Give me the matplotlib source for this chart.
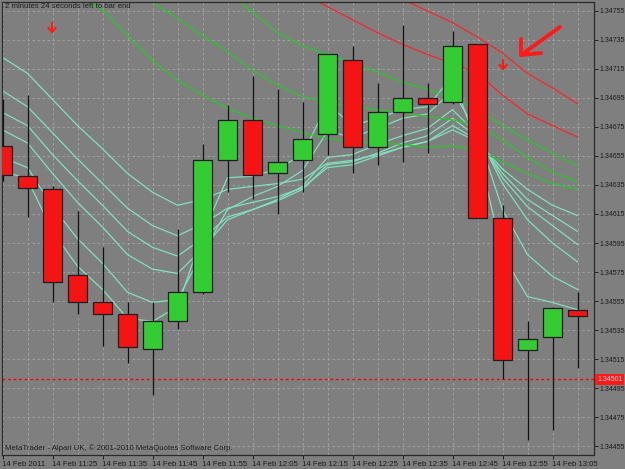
import matplotlib.pyplot as plt
from matplotlib.patches import Rectangle
import numpy as np

plt.rcParams['font.family'] = ['Liberation Sans', 'DejaVu Sans']

# 5 minute bars, 14 Feb 2011
times = ['11:15', '11:20', '11:25', '11:30', '11:35', '11:40', '11:45', '11:50',
         '11:55', '12:00', '12:05', '12:10', '12:15', '12:20', '12:25', '12:30',
         '12:35', '12:40', '12:45', '12:50', '12:55', '13:00', '13:05', '13:10']
opens = [1.34662, 1.34641, 1.34632, 1.34573, 1.34554, 1.34546, 1.34522, 1.34541,
         1.34561, 1.34652, 1.34680, 1.34643, 1.34652, 1.34670, 1.34721, 1.34661,
         1.34685, 1.34695, 1.34692, 1.34732, 1.34612, 1.34521, 1.34530, 1.34549]
highs = [1.34694, 1.34697, 1.34634, 1.34617, 1.34592, 1.34554, 1.34554, 1.34605,
         1.34663, 1.34690, 1.34710, 1.34701, 1.34692, 1.34725, 1.34731, 1.34705,
         1.34745, 1.34705, 1.34741, 1.34732, 1.34621, 1.34541, 1.34551, 1.34561]
lows = [1.34638, 1.34613, 1.34554, 1.34546, 1.34524, 1.34512, 1.34490, 1.34536,
        1.34560, 1.34630, 1.34625, 1.34615, 1.34630, 1.34656, 1.34643, 1.34649,
        1.34651, 1.34657, 1.34691, 1.34612, 1.34501, 1.34459, 1.34466, 1.34509]
closes = [1.34642, 1.34633, 1.34568, 1.34554, 1.34546, 1.34523, 1.34541, 1.34561,
          1.34652, 1.34680, 1.34642, 1.34651, 1.34667, 1.34725, 1.34661, 1.34685,
          1.34695, 1.34691, 1.34731, 1.34612, 1.34514, 1.34529, 1.34550, 1.34545]

# short moving averages (aquamarine)
aqua1 = [1.34723, 1.34712, 1.34694, 1.34676, 1.34660, 1.34643, 1.34630, 1.34621,
         1.34625, 1.34632, 1.34634, 1.34636, 1.34639, 1.34650, 1.34652, 1.34656,
         1.34661, 1.34665, 1.34673, 1.34665, 1.34646, 1.34632, 1.34621, 1.34614]
aqua2 = [1.34700, 1.34689, 1.34671, 1.34653, 1.34636, 1.34619, 1.34607, 1.34600,
         1.34608, 1.34619, 1.34623, 1.34627, 1.34633, 1.34647, 1.34649, 1.34655,
         1.34661, 1.34665, 1.34676, 1.34666, 1.34643, 1.34625, 1.34614, 1.34603]
aqua3 = [1.34685, 1.34676, 1.34656, 1.34638, 1.34621, 1.34603, 1.34592, 1.34586,
         1.34598, 1.34613, 1.34618, 1.34624, 1.34632, 1.34649, 1.34651, 1.34657,
         1.34664, 1.34669, 1.34681, 1.34668, 1.34640, 1.34620, 1.34607, 1.34594]
aqua4 = [1.34673, 1.34664, 1.34643, 1.34623, 1.34606, 1.34587, 1.34577, 1.34574,
         1.34591, 1.34611, 1.34618, 1.34625, 1.34634, 1.34654, 1.34656, 1.34663,
         1.34669, 1.34674, 1.34687, 1.34670, 1.34636, 1.34611, 1.34595, 1.34582]
aqua5 = [1.34654, 1.34647, 1.34620, 1.34598, 1.34581, 1.34561, 1.34554, 1.34556,
         1.34588, 1.34618, 1.34627, 1.34634, 1.34645, 1.34672, 1.34668, 1.34674,
         1.34681, 1.34684, 1.34700, 1.34671, 1.34618, 1.34587, 1.34572, 1.34563]
aqua6 = [1.34645, 1.34639, 1.34603, 1.34579, 1.34563, 1.34543, 1.34541, 1.34551,
         1.34601, 1.34640, 1.34641, 1.34646, 1.34656, 1.34691, 1.34676, 1.34681,
         1.34687, 1.34689, 1.34710, 1.34661, 1.34587, 1.34558, 1.34554, 1.34549]

# longer moving averages (green, red)
green1 = [1.34804, 1.34790, 1.34776, 1.34766, 1.34756, 1.34738, 1.34721, 1.34707,
          1.34697, 1.34688, 1.34681, 1.34676, 1.34671, 1.34667, 1.34665, 1.34664,
          1.34663, 1.34661, 1.34662, 1.34659, 1.34651, 1.34643, 1.34636, 1.34632]
green2 = [None, None, None, None, None, 1.34775, 1.34761, 1.34750,
          1.34738, 1.34727, 1.34714, 1.34704, 1.34696, 1.34692, 1.34689, 1.34687,
          1.34685, 1.34682, 1.34680, 1.34676, 1.34666, 1.34654, 1.34644, 1.34637]
green3 = [None, None, None, None, None, None, None, None,
          1.34783, 1.34768, 1.34754, 1.34740, 1.34731, 1.34725, 1.34719, 1.34713,
          1.34706, 1.34701, 1.34695, 1.34687, 1.34676, 1.34666, 1.34657, 1.34648]
red1 = [None, None, None, None, None, None, None, None,
        None, None, None, None, None, None, None, 1.34771,
        1.34763, 1.34755, 1.34747, 1.34737, 1.34726, 1.34712, 1.34702, 1.34691]
red2 = [None, None, None, None, None, None, None, None,
        None, None, None, None, 1.34767, 1.34758, 1.34749, 1.34740,
        1.34732, 1.34725, 1.34719, 1.34712, 1.34697, 1.34684, 1.34676, 1.34668]

bid = 1.34501
yticks = [1.34455, 1.34475, 1.34495, 1.34515, 1.34535, 1.34555, 1.34575, 1.34595,
          1.34615, 1.34635, 1.34655, 1.34675, 1.34695, 1.34715, 1.34735, 1.34755]
xtick_labels = ['14 Feb 2011', '14 Feb 11:25', '14 Feb 11:35', '14 Feb 11:45',
                '14 Feb 11:55', '14 Feb 12:05', '14 Feb 12:15', '14 Feb 12:25',
                '14 Feb 12:35', '14 Feb 12:45', '14 Feb 12:55', '14 Feb 13:05']

bg = '#7f7f7f'
txt = '#1c1c1c'
W, H = 625, 469

fig = plt.figure(figsize=(6.25, 4.69), dpi=100, facecolor=bg)
ax = fig.add_axes([2 / W, 1 - 455 / H, 592 / W, 453 / H], facecolor=bg)

x = np.arange(len(times))

for s in [aqua1, aqua2, aqua3, aqua4, aqua5, aqua6]:
    ax.plot(x, np.array(s, dtype=float), color='#7fe6c0', lw=0.85, zorder=2)
for s in [green1, green2, green3]:
    ax.plot(x, np.array(s, dtype=float), color='#22cc22', lw=0.85, zorder=2)
for s in [red1, red2]:
    ax.plot(x, np.array(s, dtype=float), color='#ff2222', lw=0.85, zorder=2)

ax.axhline(bid, color='#ff0000', ls=(0, (2, 2)), lw=1.0, zorder=2.5)

for i in x:
    o, h, l, c = opens[i], highs[i], lows[i], closes[i]
    ax.vlines(i, l, h, color='#111111', lw=0.9, zorder=3)
    col = '#33cc33' if c >= o else '#f51414'
    ax.add_patch(Rectangle((i - 0.38, min(o, c)), 0.76, abs(c - o),
                           facecolor=col, edgecolor='#1e1e1e', lw=0.9, zorder=4))

ax.set_xlim(-0.02, 23.66)
ax.set_ylim(1.344488, 1.347612)

ax.set_xticks(x[::2])
ax.set_xticklabels(xtick_labels, ha='left')
ax.set_xticks(x, minor=True)
ax.set_yticks(yticks)
ax.set_yticklabels(['%.5f' % v for v in yticks])
ax.yaxis.tick_right()
ax.tick_params(axis='both', which='major', length=3, width=0.7, color='#1e1e1e',
               labelcolor=txt, pad=1)
ax.tick_params(axis='x', which='major', labelsize=5.6)
ax.tick_params(axis='y', which='major', labelsize=5.0)
ax.tick_params(axis='x', which='minor', length=0)
ax.grid(True, which='both', color='#a6a6a6', ls=(0, (3, 3)), lw=0.6, zorder=1)
ax.grid(False, axis='y', which='minor')

for sp in ax.spines.values():
    sp.set_color('#2a2a2a')
    sp.set_linewidth(0.9)

# bid price label on the price scale
ax.text(1.0 + 3 / 592, bid, '1.34501', transform=ax.get_yaxis_transform(),
        ha='left', va='center', fontsize=5.0, color='#ffd8d8', zorder=6,
        bbox=dict(boxstyle='square,pad=0.25', fc='#ff1a1a', ec='none'))

fig.text(5 / W, 1 - 6 / H, '2 minutes 24 seconds left to bar end',
         fontsize=5.6, color=txt, va='center', ha='left')
fig.text(5 / W, 1 - 448 / H,
         'MetaTrader - Alpari UK, \u00a9 2001-2010 MetaQuotes Software Corp.',
         fontsize=5.6, color=txt, va='center', ha='left')


def px(a, b):
    return a / W, 1 - b / H


# small down arrows
for ax_, ay in [(52, 23), (503, 60)]:
    fig.add_artist(plt.Line2D([px(ax_, ay)[0]] * 2, [px(ax_, ay)[1], px(ax_, ay + 9)[1]],
                              color='#ff1a1a', lw=1.5))
    fig.add_artist(plt.Line2D([px(ax_ - 3.5, ay + 5)[0], px(ax_, ay + 9)[0], px(ax_ + 3.5, ay + 5)[0]],
                              [px(ax_ - 3.5, ay + 5)[1], px(ax_, ay + 9)[1], px(ax_ + 3.5, ay + 5)[1]],
                              color='#ff1a1a', lw=1.5))

# hand drawn arrow
tip = px(521, 55)
for end in [px(560, 27), px(521, 39), px(541, 53)]:
    fig.add_artist(plt.Line2D([tip[0], end[0]], [tip[1], end[1]],
                              color='#ff1a1a', lw=2.8, solid_capstyle='round'))

fig.savefig('out.png', dpi=100, facecolor=bg)
